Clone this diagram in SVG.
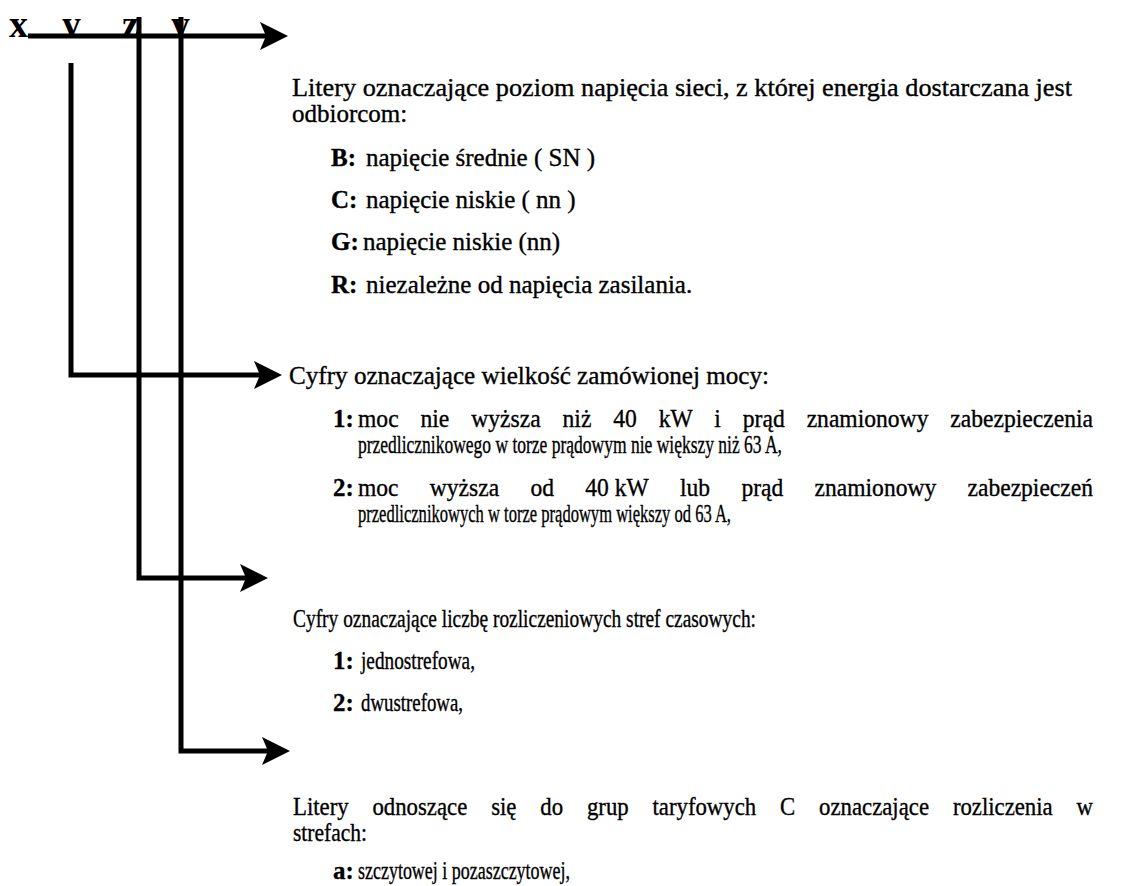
<svg xmlns="http://www.w3.org/2000/svg" width="1134" height="886" viewBox="0 0 1134 886">
<style>
text{font-family:"Liberation Serif","Times New Roman",serif;fill:#000;}
.t{font-size:25px;stroke:#000;stroke-width:0.35px;}
.b{font-weight:bold;}
.lbl{font-size:38px;font-weight:bold;}
.ln{fill:none;stroke:#000;stroke-width:5;stroke-linejoin:miter;}
</style>
<defs>
<marker id="ah" viewBox="0 0 28 28" markerWidth="28" markerHeight="28" markerUnits="userSpaceOnUse" refX="6" refY="14" orient="auto">
<path d="M0,0 L28,14 L0,28 L6,14 Z" fill="#000"/>
</marker>
<clipPath id="topclip"><rect x="0" y="0" width="300" height="38"/></clipPath>
</defs>
<rect width="1134" height="886" fill="#fff"/>

<g id="code-letters" clip-path="url(#topclip)">
<text class="lbl" x="9" y="37">x</text>
<text class="lbl" x="62" y="37">y</text>
<text class="lbl" x="122" y="37">z</text>
<text class="lbl" x="171" y="37">y</text>
</g>

<g id="connectors">
<path class="ln" d="M28,36 H266" marker-end="url(#ah)"/>
<path class="ln" d="M71,63 V375 H260" marker-end="url(#ah)"/>
<path class="ln" d="M139,17 V578 H246" marker-end="url(#ah)"/>
<path class="ln" d="M181,17 V751 H268" marker-end="url(#ah)"/>
</g>

<g id="node-voltage">
<text class="t" x="292" y="96" textLength="780" lengthAdjust="spacingAndGlyphs">Litery oznaczające poziom napięcia sieci, z której energia dostarczana jest</text>
<text class="t" x="292" y="122">odbiorcom:</text>
<text class="t b" x="331" y="166">B:</text><text class="t" x="366" y="166">napięcie średnie ( SN )</text>
<text class="t b" x="331" y="208">C:</text><text class="t" x="366" y="208">napięcie niskie ( nn )</text>
<text class="t b" x="331" y="250">G:</text><text class="t" x="363" y="250">napięcie niskie (nn)</text>
<text class="t b" x="331" y="293">R:</text><text class="t" x="366" y="293">niezależne od napięcia zasilania.</text>
</g>

<g id="node-power">
<text class="t" x="289" y="384" textLength="480" lengthAdjust="spacingAndGlyphs">Cyfry oznaczające wielkość zamówionej mocy:</text>
<text class="t b" x="333" y="427">1:</text>
<text class="t" x="358" y="427" word-spacing="17" textLength="735" lengthAdjust="spacingAndGlyphs">moc nie wyższa niż 40 kW i prąd znamionowy zabezpieczenia</text>
<text class="t" x="358" y="453" textLength="424" lengthAdjust="spacingAndGlyphs">przedlicznikowego w torze prądowym nie większy niż 63 A,</text>
<text class="t b" x="333" y="496">2:</text>
<text class="t" x="358" y="496" word-spacing="27" textLength="735" lengthAdjust="spacingAndGlyphs">moc wyższa od <tspan word-spacing="0">40 kW</tspan> lub prąd znamionowy zabezpieczeń</text>
<text class="t" x="358" y="522" textLength="373" lengthAdjust="spacingAndGlyphs">przedlicznikowych w torze prądowym większy od 63 A,</text>
</g>

<g id="node-zones">
<text class="t" x="293" y="627" textLength="463" lengthAdjust="spacingAndGlyphs">Cyfry oznaczające liczbę rozliczeniowych stref czasowych:</text>
<text class="t b" x="333" y="669">1:</text>
<text class="t" x="361" y="669" textLength="114" lengthAdjust="spacingAndGlyphs">jednostrefowa,</text>
<text class="t b" x="333" y="711">2:</text>
<text class="t" x="361" y="711" textLength="102" lengthAdjust="spacingAndGlyphs">dwustrefowa,</text>
</g>

<g id="node-tariff">
<text class="t" x="293" y="815" word-spacing="20" textLength="800" lengthAdjust="spacingAndGlyphs">Litery odnoszące się do grup taryfowych C oznaczające rozliczenia w</text>
<text class="t" x="293" y="841" textLength="74" lengthAdjust="spacingAndGlyphs">strefach:</text>
<text class="t b" x="333" y="879">a:</text>
<text class="t" x="358" y="879" textLength="212" lengthAdjust="spacingAndGlyphs">szczytowej i pozaszczytowej,</text>
</g>
</svg>
